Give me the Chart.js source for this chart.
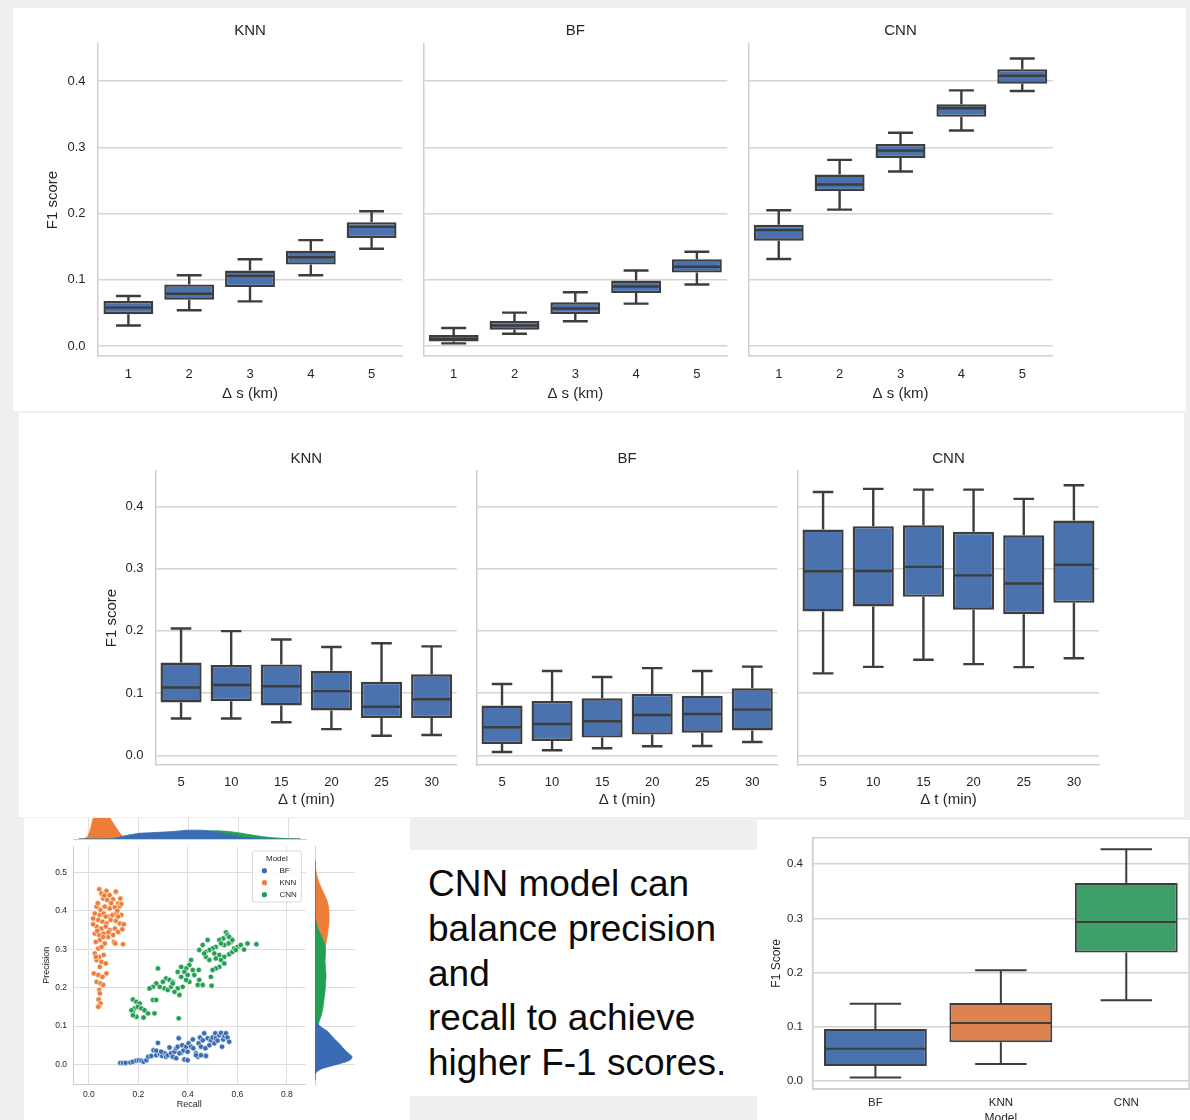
<!DOCTYPE html>
<html><head><meta charset="utf-8">
<script src="https://cdn.jsdelivr.net/npm/chart.js@4.4.0/dist/chart.umd.min.js"></script>
<style>
html,body{margin:0;padding:0;width:1190px;height:1120px;overflow:hidden;background:#efefef;font-family:'Liberation Sans',Arial,sans-serif;}
.panel{position:absolute;background:#fff;}
canvas{position:absolute;}
#note{position:absolute;left:428px;top:862px;font-size:37px;line-height:44.75px;color:#0a0a0a;white-space:nowrap;}
</style></head><body>
<div class="panel" style="left:13px;top:8px;width:1173px;height:403px"></div>
<div class="panel" style="left:19px;top:413px;width:1165px;height:404px"></div>
<div class="panel" style="left:24px;top:818px;width:386px;height:302px"></div>
<div class="panel" style="left:410px;top:850px;width:347px;height:246px"></div>
<div class="panel" style="left:757px;top:820px;width:433px;height:300px"></div>
<div id="note">CNN model can<br>balance precision<br>and<br>recall to achieve<br>higher F-1 scores.</div>
<script>
// ---------- Data ----------
const dsLabels = ['1','2','3','4','5'];
const dtLabels = ['5','10','15','20','25','30'];
const modelLabels = ['BF','KNN','CNN'];
const f1Ticks = [0,0.1,0.2,0.3,0.4];

// Row 1: F1 vs Δs
const knnDsLow  = [0.031,0.054,0.0675,0.107,0.147];
const knnDsQ1   = [0.048,0.070,0.089,0.123,0.163];
const knnDsMed  = [0.058,0.079,0.106,0.134,0.180];
const knnDsQ3   = [0.068,0.093,0.114,0.144,0.187];
const knnDsHigh = [0.0756,0.107,0.131,0.160,0.2035];

const bfDsLow  = [0.004,0.0187,0.0374,0.064,0.093];
const bfDsQ1   = [0.007,0.0247,0.0485,0.080,0.111];
const bfDsMed  = [0.011,0.031,0.0566,0.090,0.1197];
const bfDsQ3   = [0.0167,0.038,0.066,0.099,0.131];
const bfDsHigh = [0.0273,0.0505,0.0813,0.114,0.1424];

const cnnDsLow  = [0.1315,0.206,0.2635,0.3255,0.385];
const cnnDsQ1   = [0.159,0.234,0.284,0.346,0.396];
const cnnDsMed  = [0.175,0.244,0.295,0.359,0.408];
const cnnDsQ3   = [0.183,0.259,0.305,0.365,0.418];
const cnnDsHigh = [0.205,0.281,0.322,0.386,0.434];

// Row 2: F1 vs Δt
const knnDtLow  = [0.059,0.059,0.053,0.042,0.0315,0.0326];
const knnDtQ1   = [0.085,0.087,0.080,0.072,0.060,0.060];
const knnDtMed  = [0.109,0.113,0.111,0.103,0.078,0.090];
const knnDtQ3   = [0.149,0.145,0.146,0.136,0.118,0.130];
const knnDtHigh = [0.2037,0.1995,0.186,0.174,0.180,0.175];

const bfDtLow  = [0.0054,0.008,0.0112,0.0145,0.015,0.0214];
const bfDtQ1   = [0.018,0.023,0.0284,0.0332,0.0364,0.040];
const bfDtMed  = [0.045,0.0503,0.0546,0.0648,0.0664,0.0734];
const bfDtQ3   = [0.0798,0.0873,0.0916,0.0985,0.0958,0.1076];
const bfDtHigh = [0.1146,0.1355,0.1258,0.140,0.1355,0.1424];

const cnnDtLow  = [0.1316,0.142,0.1535,0.1465,0.1417,0.156];
const cnnDtQ1   = [0.231,0.239,0.2545,0.234,0.2267,0.245];
const cnnDtMed  = [0.2957,0.296,0.3027,0.289,0.276,0.306];
const cnnDtQ3   = [0.3626,0.368,0.3695,0.359,0.3535,0.377];
const cnnDtHigh = [0.423,0.428,0.4267,0.4267,0.412,0.4337];

// Overall F1 by model
const modelLow  = [0.006,0.031,0.1485];
const modelQ1   = [0.027,0.0709,0.2367];
const modelMed  = [0.059,0.1066,0.2934];
const modelQ3   = [0.0955,0.1436,0.3655];
const modelHigh = [0.1424,0.204,0.4277];

// Scatter: recall / precision
const bfRecall = [0.127,0.138,0.149,0.168,0.178,0.192,0.202,0.212,0.221,0.232,0.240,0.252,0.261,0.272,0.279,0.286,0.296,0.306,0.312,0.319,0.326,0.332,0.339,0.346,0.353,0.359,0.363,0.373,0.377,0.382,0.386,0.393,0.399,0.403,0.413,0.420,0.422,0.433,0.440,0.444,0.449,0.453,0.460,0.466,0.471,0.473,0.480,0.487,0.493,0.500,0.507,0.511,0.513,0.520,0.527,0.534,0.538,0.543,0.547,0.554,0.560,0.567,0.473,0.453,0.433,0.399,0.353,0.272,0.292,0.366];
const bfPrecision = [0.004,0.004,0.004,0.005,0.007,0.010,0.011,0.010,0.007,0.011,0.020,0.022,0.037,0.024,0.056,0.027,0.022,0.029,0.020,0.024,0.044,0.029,0.020,0.033,0.042,0.046,0.068,0.030,0.050,0.036,0.013,0.046,0.033,0.055,0.046,0.065,0.042,0.029,0.020,0.055,0.070,0.046,0.063,0.081,0.042,0.024,0.068,0.050,0.063,0.070,0.055,0.081,0.068,0.062,0.076,0.082,0.046,0.065,0.074,0.081,0.070,0.059,0.022,0.024,0.024,0.011,0.016,0.036,0.033,0.029];
const knnRecall = [0.042,0.051,0.071,0.084,0.109,0.127,0.058,0.074,0.098,0.118,0.031,0.047,0.064,0.084,0.105,0.125,0.131,0.024,0.044,0.060,0.078,0.095,0.111,0.131,0.017,0.038,0.055,0.071,0.088,0.109,0.125,0.141,0.031,0.051,0.068,0.084,0.105,0.118,0.135,0.024,0.042,0.060,0.078,0.098,0.044,0.064,0.028,0.101,0.107,0.138,0.038,0.051,0.024,0.042,0.060,0.031,0.051,0.068,0.044,0.020,0.038,0.055,0.071,0.031,0.047,0.058,0.042,0.044,0.039,0.042,0.047,0.038,0.017,0.034,0.118,0.068,0.079,0.058,0.028,0.090,0.062,0.115,0.036];
const knnPrecision = [0.456,0.445,0.452,0.441,0.450,0.432,0.432,0.428,0.430,0.419,0.411,0.402,0.411,0.406,0.409,0.412,0.418,0.393,0.389,0.393,0.385,0.389,0.393,0.389,0.380,0.376,0.372,0.367,0.376,0.374,0.367,0.365,0.359,0.354,0.359,0.350,0.354,0.345,0.352,0.341,0.337,0.341,0.332,0.337,0.324,0.315,0.319,0.319,0.315,0.313,0.302,0.306,0.289,0.280,0.285,0.272,0.267,0.263,0.254,0.237,0.233,0.228,0.237,0.215,0.211,0.207,0.194,0.185,0.169,0.154,0.159,0.150,0.365,0.348,0.385,0.385,0.344,0.332,0.280,0.420,0.440,0.400,0.420];
const cnnRecall = [0.554,0.560,0.567,0.543,0.527,0.574,0.580,0.564,0.547,0.534,0.513,0.500,0.480,0.460,0.487,0.471,0.507,0.527,0.547,0.567,0.580,0.587,0.601,0.614,0.641,0.677,0.627,0.594,0.513,0.534,0.547,0.527,0.513,0.500,0.473,0.466,0.446,0.487,0.493,0.496,0.413,0.406,0.393,0.373,0.386,0.420,0.426,0.444,0.446,0.440,0.460,0.399,0.406,0.393,0.373,0.359,0.379,0.359,0.366,0.346,0.363,0.312,0.326,0.339,0.299,0.306,0.319,0.332,0.339,0.286,0.272,0.279,0.259,0.245,0.259,0.272,0.265,0.178,0.192,0.205,0.185,0.198,0.212,0.225,0.178,0.192,0.172,0.239,0.221,0.178];
const cnnPrecision = [0.344,0.337,0.332,0.328,0.324,0.319,0.324,0.315,0.311,0.315,0.306,0.302,0.324,0.311,0.298,0.293,0.289,0.285,0.280,0.287,0.293,0.302,0.306,0.311,0.315,0.313,0.299,0.298,0.276,0.272,0.263,0.254,0.250,0.246,0.280,0.289,0.298,0.272,0.228,0.205,0.272,0.259,0.250,0.254,0.241,0.246,0.233,0.246,0.220,0.207,0.207,0.233,0.215,0.220,0.228,0.241,0.202,0.198,0.181,0.189,0.120,0.224,0.220,0.215,0.215,0.198,0.194,0.202,0.211,0.202,0.211,0.250,0.202,0.198,0.168,0.168,0.133,0.169,0.163,0.159,0.146,0.150,0.146,0.141,0.137,0.124,0.141,0.133,0.122,0.128];

// Marginal densities (relative heights)
const recallGrid = [-0.04,-0.02,0,0.02,0.04,0.06,0.08,0.1,0.12,0.14,0.16,0.18,0.2,0.25,0.3,0.35,0.4,0.45,0.5,0.55,0.6,0.65,0.7,0.75,0.8,0.85];
const kdeRecallKNN = [0,0.02,0.25,1.1,1.5,1.6,1.1,0.7,0.35,0.08,0.01,0,0,0,0,0,0,0,0,0,0,0,0,0,0,0];
const kdeRecallBF  = [0,0,0,0,0,0,0,0.03,0.08,0.14,0.19,0.23,0.27,0.3,0.33,0.37,0.42,0.42,0.36,0.24,0.12,0.05,0.015,0,0,0];
const kdeRecallCNN = [0,0,0,0,0,0,0,0,0.01,0.02,0.04,0.06,0.1,0.15,0.2,0.25,0.3,0.35,0.39,0.37,0.3,0.2,0.11,0.05,0.015,0];
const precGrid = [-0.04,-0.03,-0.02,-0.01,0,0.01,0.02,0.03,0.04,0.055,0.07,0.085,0.1,0.115,0.13,0.15,0.17,0.19,0.21,0.23,0.25,0.27,0.29,0.31,0.33,0.35,0.37,0.39,0.41,0.43,0.45,0.47,0.49,0.51,0.53];
const kdePrecBF  = [0,0,1.5,8,22,34,37,33,29,24,18,13,5,0.5,0,0,0,0,0,0,0,0,0,0,0,0,0,0,0,0,0,0,0,0,0];
const kdePrecCNN = [0,0,0,0,0,0,0,0,0,0,0,1,3,4.5,6.5,8,9,10,10.5,11,10.5,10,10.5,10,7,3.5,1.2,0.3,0,0,0,0,0,0,0];
const kdePrecKNN = [0,0,0,0,0,0,0,0,0,0,0,0,0.4,1,1.5,2,2.5,3,3.5,4,5,6.5,8.5,10.5,12,13,14,14,13.5,11.5,8,4.5,2,0.6,0];

// ---------- Helpers ----------
const FONT = "'Liberation Sans', Arial, sans-serif";
Chart.defaults.font.family = FONT;
Chart.defaults.color = '#262626';
const TXT = '#262626';
const BOXBLUE = '#4a72ae';
const SC_BLUE = '#3a6cb4', SC_ORANGE = '#ee7d3a', SC_GREEN = '#22a052';

function addCanvas(L,T,W,H){
  const c = document.createElement('canvas');
  c.width = W; c.height = H;
  c.style.left = L+'px'; c.style.top = T+'px'; c.style.width = W+'px'; c.style.height = H+'px';
  document.body.appendChild(c);
  return c;
}
const fixedTicks = vals => (s => { s.ticks = vals.map(v => ({value: v})); });

const whiskerPlugin = {
  id: 'whiskers',
  afterDatasetsDraw(chart){
    const ds = chart.data.datasets[0];
    if (!ds.stats) return;
    const meta = chart.getDatasetMeta(0), ys = chart.scales.y, ctx = chart.ctx;
    ctx.save();
    ctx.strokeStyle = ds.borderColor; ctx.lineWidth = ds.whiskerWidth;
    meta.data.forEach((bar, i) => {
      const x = bar.x, w = bar.width;
      const p = k => ys.getPixelForValue(ds.stats[k][i]);
      ctx.beginPath();
      ctx.moveTo(x, p('q3')); ctx.lineTo(x, p('high'));
      ctx.moveTo(x, p('q1')); ctx.lineTo(x, p('low'));
      ctx.moveTo(x - w/4, p('high')); ctx.lineTo(x + w/4, p('high'));
      ctx.moveTo(x - w/4, p('low')); ctx.lineTo(x + w/4, p('low'));
      ctx.moveTo(x - w/2 + 1, p('med')); ctx.lineTo(x + w/2 - 1, p('med'));
      ctx.stroke();
    });
    ctx.restore();
  }
};
const framePlugin = {
  id: 'frame',
  afterDraw(chart){
    const a = chart.chartArea, ctx = chart.ctx;
    ctx.save(); ctx.strokeStyle = '#d0d0d0'; ctx.lineWidth = 1.5;
    ctx.strokeRect(a.left, a.top, a.right - a.left, a.bottom - a.top);
    ctx.restore();
  }
};

function boxChart(o){
  const c = addCanvas(o.L, o.T, o.W, o.H);
  const a = o.area;
  const tickLH = o.tickSize*1.2, titleLH = o.titleSize*1.2, labLH = o.labSize*1.2;
  const hasTitle = !!o.title;
  const tpTop = hasTitle ? o.titleY - o.T - titleLH/2 : 0;
  const tpBot = hasTitle ? (a[1] - o.T) - tpTop - titleLH : 0;
  const plugins = [whiskerPlugin];
  if (o.frame) plugins.push(framePlugin);
  new Chart(c, {
    type: 'bar',
    data: { labels: o.labels, datasets: [{
      data: o.labels.map((_, i) => [o.q1[i], o.q3[i]]),
      backgroundColor: o.colors, borderColor: '#3d3d3d', borderWidth: o.lw, borderSkipped: false,
      barPercentage: 0.82, categoryPercentage: 1,
      stats: {low: o.low, q1: o.q1, med: o.med, q3: o.q3, high: o.high}, whiskerWidth: o.lw
    }]},
    options: {
      responsive: false, animation: false, events: [],
      layout: { padding: { left: 0, top: hasTitle ? 0 : a[1] - o.T, right: o.L + o.W - a[2], bottom: 0 } },
      plugins: {
        legend: {display: false}, tooltip: {enabled: false},
        title: { display: hasTitle, text: o.title || '', fullSize: false, color: TXT,
          font: {size: o.titleSize, weight: 'normal', lineHeight: 1.2}, padding: {top: tpTop, bottom: tpBot} }
      },
      scales: {
        x: {
          grid: {display: false, drawTicks: false},
          border: {display: true, color: '#cfcfcf', width: 1.5},
          ticks: {font: {size: o.tickSize}, color: TXT, padding: o.tickY - a[3] - tickLH/2},
          title: {display: true, text: o.xTitle, color: TXT, font: {size: o.labSize},
                  padding: {top: 0, bottom: o.T + o.H - o.xTitleY - labLH/2}},
          afterFit: s => { s.height = o.T + o.H - a[3]; }
        },
        y: {
          min: o.ymin, max: o.ymax, afterBuildTicks: fixedTicks(f1Ticks),
          grid: {color: '#d4d4d4', lineWidth: 1.5, drawTicks: false},
          border: {display: true, color: '#cfcfcf', width: 1.5},
          ticks: {display: o.showY, font: {size: o.tickSize}, color: TXT,
                  padding: o.showY ? a[0] - o.yTickRight : 0, callback: v => v.toFixed(1)},
          title: {display: !!o.yTitle, text: o.yTitle || '', color: TXT, font: {size: o.labSize},
                  padding: {top: o.yTitle ? o.yTitleX - o.L - labLH/2 : 0, bottom: 0}},
          afterFit: s => { s.width = a[0] - o.L; }
        }
      }
    },
    plugins
  });
}

// ---------- Row 1 ----------
const row1 = {T: 10, H: 400, titleY: 31, tickY: 374, xTitleY: 394, titleSize: 15, tickSize: 13, labSize: 15,
  ymin: -0.015, ymax: 0.456, xTitle: 'Δ s (km)', labels: dsLabels, colors: BOXBLUE, lw: 2.4};
boxChart({...row1, L: 20, W: 390, area: [98,44,402,356], title: 'KNN', showY: true, yTickRight: 85.5,
  yTitle: 'F1 score', yTitleX: 53, low: knnDsLow, q1: knnDsQ1, med: knnDsMed, q3: knnDsQ3, high: knnDsHigh});
boxChart({...row1, L: 410, W: 325, area: [423.3,44,727.3,356], title: 'BF', showY: false,
  low: bfDsLow, q1: bfDsQ1, med: bfDsMed, q3: bfDsQ3, high: bfDsHigh});
boxChart({...row1, L: 735, W: 325, area: [748.3,44,1052.7,356], title: 'CNN', showY: false,
  low: cnnDsLow, q1: cnnDsQ1, med: cnnDsMed, q3: cnnDsQ3, high: cnnDsHigh});

// ---------- Row 2 ----------
const row2 = {T: 440, H: 375, titleY: 459, tickY: 782, xTitleY: 800, titleSize: 15, tickSize: 13, labSize: 15,
  ymin: -0.0156, ymax: 0.4567, xTitle: 'Δ t (min)', labels: dtLabels, colors: BOXBLUE, lw: 2.4};
boxChart({...row2, L: 95, W: 371, area: [156,471,456.7,765], title: 'KNN', showY: true, yTickRight: 143.5,
  yTitle: 'F1 score', yTitleX: 111.7, low: knnDtLow, q1: knnDtQ1, med: knnDtMed, q3: knnDtQ3, high: knnDtHigh});
boxChart({...row2, L: 466, W: 321, area: [477,471,777.3,765], title: 'BF', showY: false,
  low: bfDtLow, q1: bfDtQ1, med: bfDtMed, q3: bfDtQ3, high: bfDtHigh});
boxChart({...row2, L: 787, W: 323, area: [798,471,1099,765], title: 'CNN', showY: false,
  low: cnnDtLow, q1: cnnDtQ1, med: cnnDtMed, q3: cnnDtQ3, high: cnnDtHigh});

// ---------- Bottom right ----------
boxChart({L: 757, T: 820, W: 433, H: 315, area: [812.7,837.7,1189,1089], title: null, titleSize: 12,
  tickY: 1103, xTitleY: 1119, tickSize: 11.5, labSize: 12, ymin: -0.0153, ymax: 0.449,
  xTitle: 'Model', yTitle: 'F1 Score', yTitleX: 776.7, showY: true, yTickRight: 803,
  labels: modelLabels, colors: ['#4a72aa','#dc8350','#3f9f68'], lw: 2, frame: true,
  low: modelLow, q1: modelQ1, med: modelMed, q3: modelQ3, high: modelHigh});

// ---------- Scatter ----------
const legendPlugin = {
  id: 'modelLegend',
  afterDraw(chart){
    const a = chart.chartArea, ctx = chart.ctx;
    const w = 49, h = 51, x0 = a.right - 4 - w, y0 = a.top + 4.3;
    ctx.save();
    ctx.fillStyle = 'rgba(255,255,255,0.85)'; ctx.strokeStyle = '#cfcfcf'; ctx.lineWidth = 0.8;
    ctx.beginPath(); ctx.roundRect(x0, y0, w, h, 2); ctx.fill(); ctx.stroke();
    ctx.fillStyle = TXT; ctx.font = "8px " + FONT; ctx.textBaseline = 'middle';
    ctx.textAlign = 'center'; ctx.fillText('Model', x0 + w/2, y0 + 7.7);
    ctx.textAlign = 'left';
    chart.data.datasets.forEach((ds, i) => {
      const yy = y0 + 19.7 + 12*i;
      ctx.beginPath(); ctx.arc(x0 + 12, yy, 2.6, 0, Math.PI*2);
      ctx.fillStyle = ds.backgroundColor; ctx.fill();
      ctx.fillStyle = TXT; ctx.fillText(ds.label, x0 + 27, yy);
    });
    ctx.restore();
  }
};
(function(){
  const L = 30, T = 830, W = 280, H = 285, a = [73.3, 846.7, 306.7, 1084];
  const c = addCanvas(L, T, W, H);
  const pts = (xs, ys) => xs.map((x, i) => ({x, y: ys[i]}));
  const sty = col => ({backgroundColor: col, borderColor: '#ffffff', borderWidth: 0.6, pointRadius: 2.7});
  new Chart(c, {
    type: 'scatter',
    data: { datasets: [
      {label: 'BF', data: pts(bfRecall, bfPrecision), ...sty(SC_BLUE)},
      {label: 'KNN', data: pts(knnRecall, knnPrecision), ...sty(SC_ORANGE)},
      {label: 'CNN', data: pts(cnnRecall, cnnPrecision), ...sty(SC_GREEN)}
    ]},
    options: {
      responsive: false, animation: false, events: [],
      layout: {padding: {left: 0, top: a[1] - T, right: L + W - a[2], bottom: 0}},
      plugins: {legend: {display: false}, tooltip: {enabled: false}},
      scales: {
        x: { type: 'linear', min: -0.063, max: 0.875, afterBuildTicks: fixedTicks([0,0.2,0.4,0.6,0.8]),
          grid: {color: '#dedede', lineWidth: 1, drawTicks: false},
          border: {display: true, color: '#cfcfcf', width: 1},
          ticks: {font: {size: 8.5}, color: TXT, padding: 1094.7 - a[3] - 5.1, callback: v => v.toFixed(1)},
          title: {display: true, text: 'Recall', color: TXT, font: {size: 9}, padding: {top: 0, bottom: T + H - 1105 - 5.4}},
          afterFit: s => { s.height = T + H - a[3]; } },
        y: { min: -0.051, max: 0.567, afterBuildTicks: fixedTicks([0,0.1,0.2,0.3,0.4,0.5]),
          grid: {color: '#dedede', lineWidth: 1, drawTicks: false},
          border: {display: true, color: '#cfcfcf', width: 1},
          ticks: {font: {size: 8.5}, color: TXT, padding: a[0] - 67, callback: v => v.toFixed(1)},
          title: {display: true, text: 'Precision', color: TXT, font: {size: 9}, padding: {top: 47 - L - 5.4, bottom: 0}},
          afterFit: s => { s.width = a[0] - L; } }
      }
    },
    plugins: [legendPlugin]
  });
})();

// ---------- Top marginal (recall density) ----------
(function(){
  const L = 60, T = 818, W = 260, H = 22, a = [73.3, 818, 306.7, 839];
  const c = addCanvas(L, T, W, H);
  const ser = (vals, col) => ({data: recallGrid.map((x, i) => ({x, y: vals[i]})), fill: 'origin',
    backgroundColor: col, borderColor: col, borderWidth: 0.8, pointRadius: 0, cubicInterpolationMode: 'monotone'});
  new Chart(c, {
    type: 'line',
    data: {datasets: [ser(kdeRecallBF, SC_BLUE), ser(kdeRecallCNN, SC_GREEN), ser(kdeRecallKNN, SC_ORANGE)]},
    options: {
      responsive: false, animation: false, events: [],
      layout: {padding: {left: 0, top: 0, right: L + W - a[2], bottom: 0}},
      plugins: {legend: {display: false}, tooltip: {enabled: false}},
      scales: {
        x: {type: 'linear', min: -0.063, max: 0.875, afterBuildTicks: fixedTicks([0,0.2,0.4,0.6,0.8]),
          grid: {color: '#dedede', lineWidth: 1, drawTicks: false},
          border: {display: true, color: '#cfcfcf', width: 1}, ticks: {display: false},
          afterFit: s => { s.height = T + H - a[3]; }},
        y: {min: 0, max: 1, grid: {display: false, drawTicks: false}, border: {display: false}, ticks: {display: false},
          afterFit: s => { s.width = a[0] - L; }}
      }
    }
  });
})();

// ---------- Right marginal (precision density) ----------
(function(){
  const L = 312, T = 830, W = 50, H = 260, a = [315, 846.7, 355, 1084];
  const c = addCanvas(L, T, W, H);
  const ser = (vals, col) => ({data: precGrid.map((y, i) => ({x: vals[i], y})), fill: 'origin',
    backgroundColor: col, borderColor: col, borderWidth: 0.8, pointRadius: 0, cubicInterpolationMode: 'monotone'});
  new Chart(c, {
    type: 'line',
    data: {datasets: [ser(kdePrecBF, SC_BLUE), ser(kdePrecCNN, SC_GREEN), ser(kdePrecKNN, SC_ORANGE)]},
    options: {
      indexAxis: 'y',
      responsive: false, animation: false, events: [],
      layout: {padding: {left: 0, top: a[1] - T, right: L + W - a[2], bottom: 0}},
      plugins: {legend: {display: false}, tooltip: {enabled: false}},
      scales: {
        y: {type: 'linear', min: -0.051, max: 0.567, afterBuildTicks: fixedTicks([0,0.1,0.2,0.3,0.4,0.5]),
          grid: {color: '#dedede', lineWidth: 1, drawTicks: false},
          border: {display: true, color: '#cfcfcf', width: 1}, ticks: {display: false},
          afterFit: s => { s.width = a[0] - L; }},
        x: {type: 'linear', min: 0, max: 40, grid: {display: false, drawTicks: false}, border: {display: false},
          ticks: {display: false}, afterFit: s => { s.height = T + H - a[3]; }}
      }
    }
  });
})();
</script>
</body></html>
